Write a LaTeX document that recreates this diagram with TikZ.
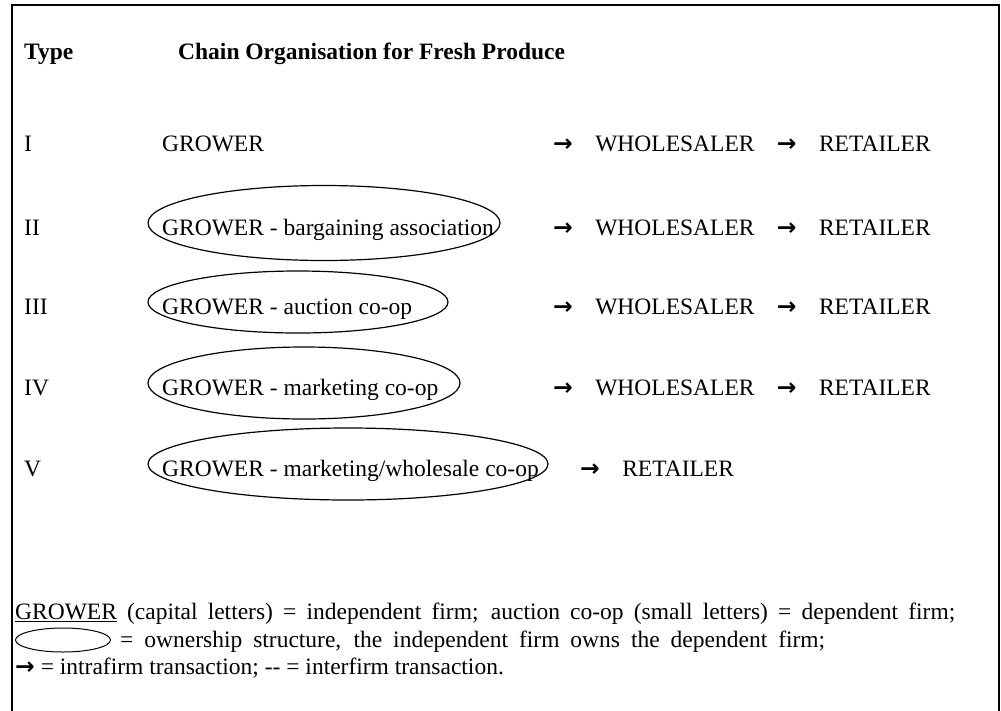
\documentclass[tikz,border=0pt]{standalone}
\usepackage{fontspec}
\setmainfont{Liberation Serif}
\newfontfamily\arrfont{DejaVu Sans}
\usetikzlibrary{shapes.geometric,positioning}
\newcommand{\arr}{{\arrfont\bfseries →}}
\newcommand{\chainrow}[3]{
	\node[txt] (a#1) at (#3,#2) {\arr};
	\node[txt, base right=of a#1] (w#1) {WHOLESALER};
	\node[txt, base right=of w#1] (b#1) {\arr};
	\node[txt, base right=of b#1] (r#1) {RETAILER};
}
\begin{document}
\fontsize{23.5}{28}\selectfont
\begin{tikzpicture}[x=1pt,y=-1pt,node distance=22pt]
		\tikzstyle{txt}=[inner sep=0pt, anchor=base west];
		\tikzstyle{own}=[draw, ellipse, line width=1.2pt, inner sep=0pt];
		\useasboundingbox (0,0) rectangle (1001,710);
		\draw[line width=2pt] (12,711) -- (12,5) -- (999,5) -- (999,711);
		
		\node[txt, font=\bfseries] (type) at (24,59) {Type};
		\node[txt, font=\bfseries] (title) at (178,59) {Chain Organisation for Fresh Produce};
		
		% ownership ellipses
		\node[own, minimum width=352pt, minimum height=75pt] (e2) at (324,223) {};
		\node[own, minimum width=300pt, minimum height=62pt] (e3) at (298,302) {};
		\node[own, minimum width=312pt, minimum height=72pt] (e4) at (304,383) {};
		\node[own, minimum width=400pt, minimum height=72pt] (e5) at (348,464) {};
		
		\node[txt] (t1) at (24,151) {I};
		\node[txt] (g1) at (162,151) {GROWER};
		\chainrow{1}{151}{553}
		
		\node[txt] (t2) at (24,235) {II};
		\node[txt] (g2) at (162,235) {GROWER - bargaining association};
		\chainrow{2}{235}{553}
		
		\node[txt] (t3) at (24,314) {III};
		\node[txt] (g3) at (162,314) {GROWER - auction co-op};
		\chainrow{3}{314}{553}
		
		\node[txt] (t4) at (24,395) {IV};
		\node[txt] (g4) at (162,395) {GROWER - marketing co-op};
		\chainrow{4}{395}{553}
		
		\node[txt] (t5) at (24,476) {V};
		\node[txt] (g5) at (162,476) {GROWER - marketing/wholesale co-op};
		\node[txt] (a5) at (580,476) {\arr};
		\node[txt, base right=of a5] (r5) {RETAILER};
		
		% legend
		\node[txt] (k1) at (15,619) {\makebox[940pt][s]{\underline{GROWER} (capital letters) = independent firm; auction co-op (small letters) = dependent firm;}};
		\node[own, line width=1pt, minimum width=95pt, minimum height=24pt] (k2e) at (63,640) {};
		\node[txt] (k2) at (120,647) {\makebox[705pt][s]{= ownership structure, the independent firm owns the dependent firm;}};
		\node[txt] (k3) at (15,674) {\arr{} = intrafirm transaction; -{}- = interfirm transaction.};
\end{tikzpicture}
\end{document}
